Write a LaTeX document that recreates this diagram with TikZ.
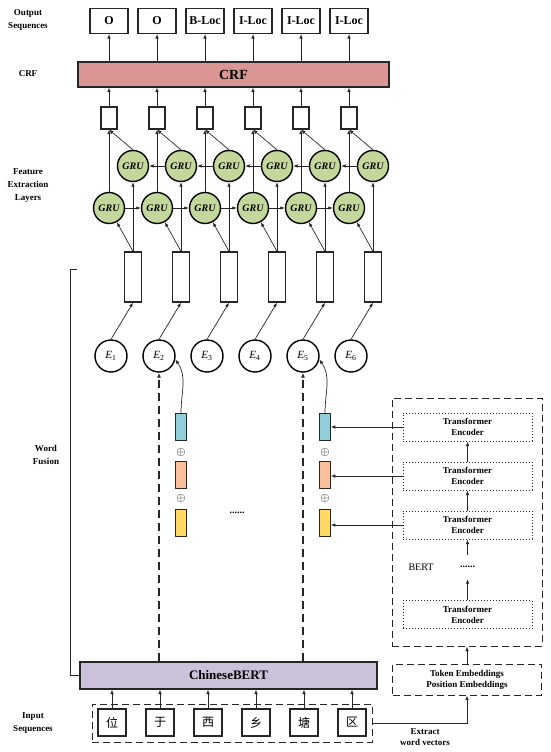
\documentclass[tikz,border=0pt]{standalone}
\usepackage{fontspec}
\setmainfont{Liberation Serif}
\newfontfamily\cjk{Noto Sans CJK SC}
\usetikzlibrary{positioning,arrows.meta,calc}

\definecolor{crffill}{HTML}{D99694}
\definecolor{bertfill}{HTML}{CCC1DA}
\definecolor{grufill}{HTML}{C4D79B}
\definecolor{barblue}{HTML}{92CDDC}
\definecolor{barorange}{HTML}{FAC09A}
\definecolor{baryellow}{HTML}{FFD966}
\definecolor{edge}{HTML}{262626}

\begin{document}
\begin{tikzpicture}[
x=1pt, y=-1pt,
arr/.style={-{Latex[length=4.5pt,width=3.5pt]}, line width=0.7pt, draw=edge},
thinbox/.style={draw=edge, line width=1.2pt, fill=white, inner sep=0pt},
outbox/.style={thinbox, minimum width=38pt, minimum height=25pt, font=\bfseries\fontsize{12}{12}\selectfont},
bar/.style={thinbox, minimum height=25pt, font=\bfseries\fontsize{14}{14}\selectfont},
cell/.style={thinbox, minimum width=16pt, minimum height=22pt},
vec/.style={thinbox, minimum width=17pt, minimum height=50pt},
gru/.style={circle, draw=black, line width=1.4pt, fill=grufill, minimum size=31pt, inner sep=0pt, font=\bfseries\itshape\fontsize{10}{10}\selectfont},
emb/.style={circle, draw=black, line width=1.4pt, fill=white, minimum size=32pt, inner sep=0pt, font=\fontsize{11}{11}\selectfont},
chbox/.style={thinbox, minimum width=28pt, minimum height=27pt, font=\cjk\fontsize{12}{12}\selectfont},
colbar/.style={draw=edge, line width=0.6pt, minimum width=11pt, minimum height=27pt, inner sep=0pt},
encbox/.style={draw=edge, dotted, line width=1pt, minimum width=129pt, minimum height=28pt, inner sep=0pt, align=center, font=\bfseries\fontsize{9}{11}\selectfont},
dbox/.style={draw=edge, line width=1pt, dash pattern=on 7pt off 4pt, inner sep=0pt},
dline/.style={-{Latex[length=5pt,width=4pt]}, draw=edge, line width=1.4pt, dash pattern=on 8pt off 5pt},
lbl/.style={align=center, font=\bfseries\fontsize{9}{13}\selectfont}
]
\useasboundingbox (0,0) rectangle (550,752);

% left labels
\node[lbl] (l-out) at (28,20) {Output\\Sequences};
\node[lbl] (l-crf) at (28,74) {CRF};
\node[lbl] (l-fe) at (28,186) {Feature\\Extraction\\Layers};
\node[lbl] (l-wf) at (46,455) {Word\\Fusion};
\node[lbl] (l-in) at (33,723) {Input\\Sequences};

% bars
\node[bar, fill=crffill, minimum width=311pt] (crf) at (233.5,74.5) {CRF};
\node[bar, fill=bertfill, minimum width=297pt, minimum height=27pt, font=\bfseries\fontsize{13}{13}\selectfont] (cbert) at (228.5,675.5) {ChineseBERT};
\node[dbox, minimum width=280pt, minimum height=38pt] (inbox) at (232,723) {};

% columns
\foreach \i/\lab/\ch in {1/O/位,2/O/于,3/B-Loc/西,4/I-Loc/乡,5/I-Loc/塘,6/I-Loc/区} {
  \pgfmathsetmacro\cx{61+48*\i}
  \node[outbox] (out\i) at (\cx,21) {\lab};
  \node[cell] (cell\i) at (\cx,118) {};
  \node[gru] (gu\i) at (\cx+24,166) {GRU};
  \node[gru] (gl\i) at (\cx,208) {GRU};
  \node[vec] (vec\i) at (\cx+24,277) {};
  \node[emb] (E\i) at (\cx+2,356) {\textit{E}\textsubscript{\i}};
  \node[chbox] (ch\i) at (\cx+3,722.5) {\ch};
  \draw[arr] (crf.north -| out\i) -- (out\i.south);
  \draw[arr] (cell\i.north) -- (cell\i.north |- crf.south);
  \draw[arr] (gl\i.north) -- (cell\i.south);
  \draw[arr] (gu\i.north) -- (cell\i.south);
  \draw[arr] (vec\i.north) -- (gu\i.south);
  \draw[arr] (vec\i.north) -- (gl\i);
  \draw[arr] (E\i.north) -- (vec\i.south);
  \draw[arr] (ch\i.north) -- (ch\i.north |- cbert.south);
}
\foreach \i [evaluate=\i as \j using int(\i+1)] in {1,...,5} {
  \draw[arr] (gl\i) -- (gl\j);
  \draw[arr] (gu\j) -- (gu\i);
}

% word fusion vectors
\foreach \k/\bx in {2/181,5/325} {
  \node[colbar, fill=barblue] (blue\k) at (\bx,427) {};
  \node (plusa\k) at (\bx,452) {\fontsize{13}{13}\selectfont$\oplus$};
  \node[colbar, fill=barorange] (orange\k) at (\bx,475) {};
  \node (plusb\k) at (\bx,498) {\fontsize{13}{13}\selectfont$\oplus$};
  \node[colbar, fill=baryellow] (yellow\k) at (\bx,522.5) {};
  \draw[arr] (blue\k.north) to[out=90, in=-55] (E\k.-12);
  \draw[dline] (E\k |- cbert.north) -- (E\k.south);
}
\node[font=\bfseries] (fdots) at (237,513) {......};

% BERT block
\node[dbox, minimum width=150pt, minimum height=248pt] (bertbox) at (467,522) {};
\node[encbox] (enc1) at (467.5,427) {Transformer\\Encoder};
\node[encbox, below=20pt of enc1] (enc2) {Transformer\\Encoder};
\node[encbox, below=20pt of enc2] (enc3) {Transformer\\Encoder};
\node[encbox] (enc4) at (467.5,614.5) {Transformer\\Encoder};
\node[font=\fontsize{10}{10}\selectfont] (bertlbl) at (421,567) {BERT};
\node[font=\bfseries, minimum height=24pt, inner sep=0pt] (bdots) at (467.5,567) {......};
\node[dbox, align=center, minimum width=149pt, minimum height=31pt, below=17pt of bertbox, font=\bfseries\fontsize{9}{11}\selectfont] (tok) {Token Embeddings\\Position Embeddings};

\draw[arr] (enc2.north) -- (enc1.south);
\draw[arr] (enc3.north) -- (enc2.south);
\draw[arr] (bdots.north) -- (enc3.south);
\draw[arr] (enc4.north) -- (bdots.south);
\draw[arr] (tok.north) -- (bertbox.south);
\draw[arr] (enc1.west) -- (enc1.west -| blue5.east);
\draw[arr] (enc2.west) -- (enc2.west -| orange5.east);
\draw[arr] (enc3.west) -- (enc3.west -| yellow5.east);
\draw[arr] (inbox.east) -| (tok.south);
\node[lbl, font=\bfseries\fontsize{9}{11}\selectfont] (extract) at (425,737) {Extract\\word vectors};

% word fusion bracket
\coordinate (wf-top) at (77,269);
\draw[draw=edge, line width=0.8pt] (wf-top) -- ++(-7,0) |- (cbert.west);
\end{tikzpicture}
\end{document}
